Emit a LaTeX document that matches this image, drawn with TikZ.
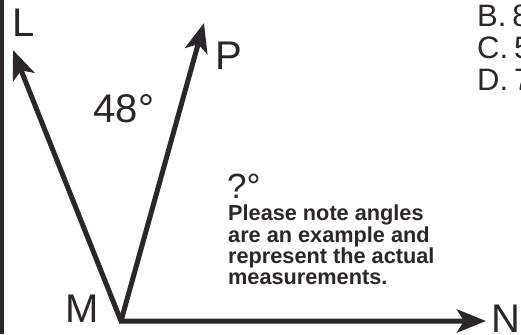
\documentclass[tikz,border=0pt]{standalone}
\usepackage{fontspec}
\setmainfont{Liberation Sans}
\usetikzlibrary{arrows.meta}
\definecolor{ink}{HTML}{2B2629}
\tikzset{
  ray/.style={draw=ink, line width=5pt},
  biglabel/.style={text=ink, inner sep=0pt, font=\fontsize{40}{40}\selectfont},
  choice/.style={text=ink, inner sep=0pt, anchor=base west, font=\fontsize{31}{31}\selectfont},
  notetext/.style={text=ink, inner sep=0pt, anchor=north west, align=left, font=\fontsize{21.7}{21.3}\selectfont\bfseries}
}
\begin{document}
\begin{tikzpicture}[x=1pt,y=-1pt]
\useasboundingbox (0,0) rectangle (521,334);
\clip (0,0) rectangle (521,334);
\fill[white] (0,0) rectangle (521,334);
\fill[ink] (0,0) rectangle (4,334);
% points
\coordinate (M) at (121,321);
\coordinate (Ltip) at (13,50);
\coordinate (Ptip) at (204,23);
\coordinate (Ntip) at (486,321);
% rays
\draw[ray, line join=miter, {Stealth[length=29pt, width=23pt, inset=7pt]}-{Stealth[length=29pt, width=23pt, inset=7pt]}] (Ltip) -- (M) -- (Ntip);
\draw[ray, -{Stealth[length=29pt, width=23pt, inset=7pt]}] (M) -- (Ptip);
% labels
\node[biglabel, anchor=base] (labL) at (24,37) {L};
\node[biglabel, anchor=base] (labP) at (229,70) {P};
\node[biglabel, anchor=base] (ang) at (124,122) {48°};
\node[biglabel, anchor=base] (labM) at (82,322) {M};
\node[biglabel, anchor=base west] (labN) at (491,332) {N};
\node[text=ink, inner sep=0pt, anchor=base west, font=\fontsize{35}{35}\selectfont] (qang) at (227,198) {?°};
\node[notetext] (note) at (228,205) {Please note angles\\are an example and\\represent the actual\\measurements.};
% answer choices (cut off at the right edge, as in the source)
\node[choice] (chB) at (477,27) {B.\hspace{6pt}8};
\node[choice] (chC) at (477,59) {C.\hspace{6pt}5};
\node[choice] (chD) at (477,91) {D.\hspace{6pt}7};
\end{tikzpicture}
\end{document}
